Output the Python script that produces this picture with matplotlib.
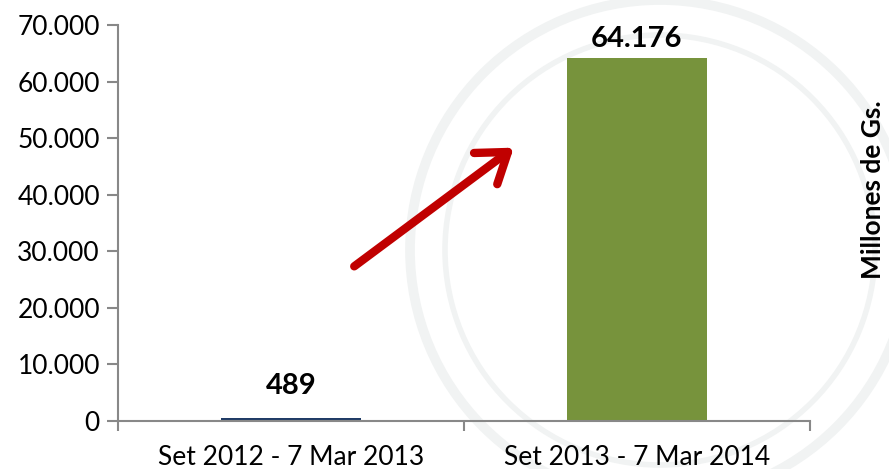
import matplotlib.pyplot as plt
from matplotlib.patches import Circle, FancyArrowPatch

# Data
categories = ['Set 2012 - 7 Mar 2013', 'Set 2013 - 7 Mar 2014']
values = [489, 64176]
value_labels = ['489', '64.176']
bar_colors = ['#1F3B66', '#77933C']
y_ticks = [0, 10000, 20000, 30000, 40000, 50000, 60000, 70000]

plt.rcParams['font.family'] = ['Lato', 'DejaVu Sans']

fig = plt.figure(figsize=(8.89, 4.69), dpi=100)
fig.patch.set_facecolor('white')

# background axes in pixel units for the faint watermark rings
bg = fig.add_axes([0, 0, 1, 1], zorder=0)
bg.set_xlim(0, 889)
bg.set_ylim(469, 0)
bg.axis('off')
for r, lw in [(250, 7), (215, 4)]:
    bg.add_patch(Circle((660, 250), r, fill=False, edgecolor='#F1F3F3', lw=lw))

ax = fig.add_axes([0.1327, 0.1023, 0.7784, 0.8444], zorder=1)
ax.set_facecolor('none')

x = range(len(categories))
ax.bar(x, values, width=0.405, color=bar_colors, zorder=2)

# label offsets above the bar top, in points
offsets = [14, 4]
for xi, v, lab, off in zip(x, values, value_labels, offsets):
    ax.annotate(lab, (xi, v), xytext=(0, off), textcoords='offset points',
                ha='center', va='bottom', fontsize=21, fontweight='bold')

ax.set_xlim(-0.5, 1.5)
ax.set_ylim(0, 70000)
ax.set_yticks(y_ticks)
ax.set_yticklabels(['{:,}'.format(t).replace(',', '.') for t in y_ticks], fontsize=19)

ax.set_xticks([-0.5, 0.5, 1.5])
ax.set_xticklabels([])
ax.set_xticks([0, 1], minor=True)
ax.set_xticklabels(categories, minor=True, fontsize=19)
ax.tick_params(axis='x', which='minor', length=0, pad=17)
ax.tick_params(axis='x', which='major', length=7, color='#888888', width=1.5)
ax.tick_params(axis='y', length=8, color='#888888', width=1.5, pad=5)

for s in ['top', 'right']:
    ax.spines[s].set_visible(False)
for s in ['left', 'bottom']:
    ax.spines[s].set_color('#888888')
    ax.spines[s].set_linewidth(1.5)

# red arrow
bg.add_patch(FancyArrowPatch(
    (352, 268), (516, 146), arrowstyle='->,head_length=1.0,head_width=0.7',
    mutation_scale=20, color='#C00000', lw=6, capstyle='round',
    joinstyle='round', zorder=5))

fig.text(873 / 889, 1 - 190 / 469, 'Millones de Gs.', rotation=90,
         ha='center', va='center', fontsize=19, fontweight='bold')

plt.savefig('out.png', dpi=100)
